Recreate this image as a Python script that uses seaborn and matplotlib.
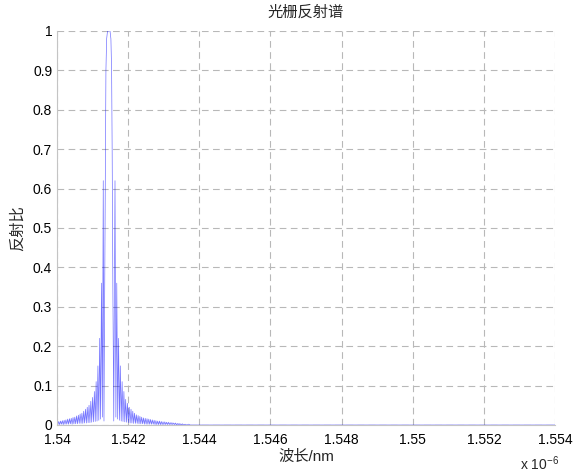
import numpy as np
import pandas as pd
import matplotlib
matplotlib.use("Agg")
import matplotlib.pyplot as plt
import seaborn as sns

# wavelength (nm) and reflectance
wl_nm = [
    1540.000, 1540.025, 1540.050, 1540.075, 1540.100, 1540.125, 1540.150, 1540.175,
    1540.200, 1540.225, 1540.250, 1540.275, 1540.300, 1540.325, 1540.350, 1540.375,
    1540.400, 1540.425, 1540.450, 1540.475, 1540.500, 1540.525, 1540.550, 1540.575,
    1540.600, 1540.625, 1540.650, 1540.675, 1540.700, 1540.725, 1540.750, 1540.775,
    1540.800, 1540.825, 1540.850, 1540.875, 1540.900, 1540.925, 1540.950, 1540.975,
    1541.000, 1541.025, 1541.050, 1541.075, 1541.100, 1541.125, 1541.150, 1541.175,
    1541.200, 1541.225, 1541.250, 1541.275, 1541.300,
    # main lobe
    1541.320, 1541.340, 1541.360, 1541.375, 1541.395, 1541.420,
    1541.490, 1541.515, 1541.535, 1541.550, 1541.570, 1541.595,
    # right side lobes
    1541.630, 1541.655, 1541.680, 1541.705, 1541.730, 1541.755, 1541.780, 1541.805,
    1541.830, 1541.855, 1541.880, 1541.905, 1541.930, 1541.955, 1541.980, 1542.005,
    1542.030, 1542.055, 1542.080, 1542.105, 1542.130, 1542.155, 1542.180, 1542.205,
    1542.230, 1542.255, 1542.280, 1542.305, 1542.330, 1542.355, 1542.380, 1542.405,
    1542.430, 1542.455, 1542.480, 1542.505, 1542.530, 1542.555, 1542.580, 1542.605,
    1542.630, 1542.655, 1542.680, 1542.705, 1542.730, 1542.755, 1542.780, 1542.805,
    1542.830, 1542.855, 1542.880, 1542.905, 1542.930, 1542.955, 1542.980, 1543.005,
    1543.030, 1543.055, 1543.080, 1543.105, 1543.130, 1543.155, 1543.180, 1543.205,
    1543.230, 1543.255, 1543.280, 1543.305, 1543.330, 1543.355, 1543.380, 1543.405,
    1543.430, 1543.455, 1543.480, 1543.505, 1543.530, 1543.555, 1543.600, 1543.650,
    1543.700, 1543.750, 1554.000,
]
refl = [
    0.008, 0.001, 0.009, 0.001, 0.010, 0.002, 0.011, 0.001,
    0.012, 0.002, 0.013, 0.002, 0.015, 0.002, 0.016, 0.003,
    0.017, 0.002, 0.019, 0.003, 0.020, 0.003, 0.023, 0.003,
    0.025, 0.004, 0.028, 0.004, 0.030, 0.004, 0.035, 0.005,
    0.040, 0.005, 0.045, 0.006, 0.050, 0.006, 0.060, 0.007,
    0.070, 0.008, 0.085, 0.009, 0.110, 0.010, 0.150, 0.012,
    0.220, 0.015, 0.360, 0.020, 0.620,
    0.010, 0.350, 0.700, 0.900, 0.980, 1.000,
    1.000, 0.980, 0.900, 0.700, 0.350, 0.010,
    0.620, 0.020, 0.360, 0.015, 0.220, 0.012, 0.150, 0.010,
    0.110, 0.009, 0.085, 0.008, 0.065, 0.007, 0.055, 0.006,
    0.045, 0.005, 0.040, 0.005, 0.035, 0.004, 0.030, 0.004,
    0.026, 0.004, 0.024, 0.003, 0.022, 0.003, 0.020, 0.003,
    0.018, 0.002, 0.017, 0.002, 0.016, 0.002, 0.015, 0.002,
    0.014, 0.002, 0.013, 0.002, 0.012, 0.001, 0.011, 0.001,
    0.010, 0.001, 0.010, 0.001, 0.009, 0.001, 0.008, 0.001,
    0.008, 0.001, 0.007, 0.001, 0.007, 0.001, 0.006, 0.001,
    0.006, 0.001, 0.005, 0.001, 0.005, 0.000, 0.004, 0.000,
    0.004, 0.000, 0.003, 0.000, 0.003, 0.000, 0.002, 0.000,
    0.002, 0.000, 0.000,
]

x_ticks = [1.540, 1.542, 1.544, 1.546, 1.548, 1.550, 1.552, 1.554]
x_tick_labels = ["1.54", "1.542", "1.544", "1.546", "1.548", "1.55", "1.552", "1.554"]
y_ticks = [0, 0.1, 0.2, 0.3, 0.4, 0.5, 0.6, 0.7, 0.8, 0.9, 1.0]
y_tick_labels = ["0", "0.1", "0.2", "0.3", "0.4", "0.5", "0.6", "0.7", "0.8", "0.9", "1"]

sns.set_style("white")
plt.rcParams["font.family"] = ["Liberation Sans", "Noto Sans CJK SC", "DejaVu Sans"]
plt.rcParams["axes.unicode_minus"] = False

df = pd.DataFrame({"wl": np.array(wl_nm) / 1000.0, "r": refl})

fig = plt.figure(figsize=(5.77, 4.73), dpi=100)
ax = fig.add_axes([0.0988, 0.1015, 0.8632, 0.8330])

sns.lineplot(data=df, x="wl", y="r", sort=False, estimator=None,
             color="#0000ff", lw=0.5, alpha=0.55, ax=ax)

ax.set_xlim(1.540, 1.554)
ax.set_ylim(0, 1)
ax.set_xticks(x_ticks)
ax.set_xticklabels(x_tick_labels)
ax.set_yticks(y_ticks)
ax.set_yticklabels(y_tick_labels)

ax.grid(True, linestyle=(0, (6, 4)), color="#b8b8b8", lw=0.8)
for side in ["top", "right"]:
    ax.spines[side].set_visible(False)
for side in ["left", "bottom"]:
    ax.spines[side].set_color("#c4c4c4")
    ax.spines[side].set_linewidth(0.8)
ax.tick_params(direction="in", length=4, color="#c4c4c4", labelsize=10,
               labelcolor="black")
ax.tick_params(axis="x", pad=6)

ax.set_title("光栅反射谱", fontsize=11, pad=10)
ax.set_xlabel("波长/nm", fontsize=11, labelpad=2)
ax.set_ylabel("反射比", fontsize=11, labelpad=6)
# multiplier note under the right end of the x axis
ax.text(1.008, -0.097, "x 10$^{\\mathregular{-6}}$", transform=ax.transAxes,
        ha="right", va="center", fontsize=10)

fig.savefig("out.png", dpi=100)
